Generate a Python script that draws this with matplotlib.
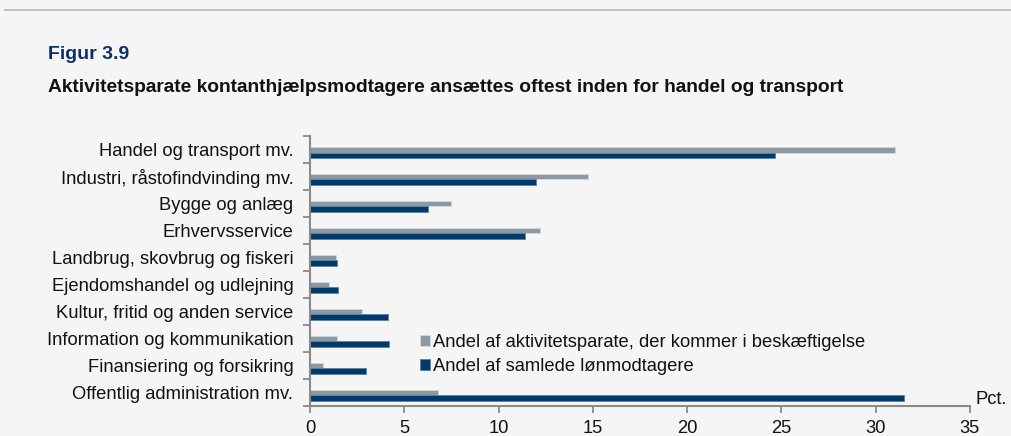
import matplotlib.pyplot as plt
import numpy as np

# data (pct.)
categories = [
    'Handel og transport mv.',
    'Industri, råstofindvinding mv.',
    'Bygge og anlæg',
    'Erhvervsservice',
    'Landbrug, skovbrug og fiskeri',
    'Ejendomshandel og udlejning',
    'Kultur, fritid og anden service',
    'Information og kommunikation',
    'Finansiering og forsikring',
    'Offentlig administration mv.',
]
aktivitetsparate = [31.0, 14.75, 7.5, 12.2, 1.4, 1.0, 2.75, 1.45, 0.7, 6.8]
loenmodtagere = [24.65, 12.0, 6.25, 11.4, 1.45, 1.5, 4.15, 4.2, 2.95, 31.5]

label_gray = 'Andel af aktivitetsparate, der kommer i beskæftigelse'
label_blue = 'Andel af samlede lønmodtagere'

plt.rcParams['font.family'] = ['Liberation Sans', 'DejaVu Sans']
plt.rcParams['font.size'] = 13

bg = '#f5f5f5'
gray = '#8d99a2'
blue = '#003a6b'
axis_col = '#8a8a8a'
txt = '#111111'
fs = 13.2

fig = plt.figure(figsize=(10.11, 4.36), dpi=100, facecolor=bg)
ax = fig.add_axes([0.3066, 0.0688, 0.6528, 0.6192])
ax.set_facecolor(bg)

n = len(categories)
y = np.arange(n)[::-1].astype(float)
h = 0.22
ax.barh(y, aktivitetsparate, height=h, color=gray, edgecolor='#d3d9de', linewidth=0.6,
        label=label_gray)
ax.barh(y - h, loenmodtagere, height=h, color=blue, edgecolor='#5d7fa0', linewidth=0.6,
        label=label_blue)

ax.set_xlim(0, 35)
ax.set_ylim(-0.5, n - 0.5)
ax.set_xticks(np.arange(0, 36, 5))
ax.set_yticks(y)
ax.set_yticklabels(categories, fontsize=fs, color=txt)
ax.set_yticks(np.arange(-0.5, n, 1.0), minor=True)
ax.tick_params(axis='y', which='major', length=0, pad=12)
ax.tick_params(axis='y', which='minor', length=5, width=1.3, color=axis_col, direction='out')
ax.tick_params(axis='x', length=5, width=1.3, color=axis_col, labelsize=fs,
               labelcolor=txt, pad=5)

for s in ['top', 'right']:
    ax.spines[s].set_visible(False)
for s in ['left', 'bottom']:
    ax.spines[s].set_color(axis_col)
    ax.spines[s].set_linewidth(1.5)

ax.text(35.3, -0.25, 'Pct.', fontsize=fs, color=txt, va='center', ha='left')

leg = ax.legend(loc='upper left', bbox_to_anchor=(0.406, 0.254), bbox_transform=fig.transFigure,
                frameon=False, fontsize=fs, handlelength=0.55, handleheight=0.55,
                handletextpad=0.2, labelspacing=0.35, borderpad=0)
for t in leg.get_texts():
    t.set_color(txt)

# header
fig.add_artist(plt.Line2D([0.005, 1.0], [0.977, 0.977], color='#b5b5b5', linewidth=1.2))
fig.text(0.047, 0.874, 'Figur 3.9', fontsize=14, fontweight='bold', color='#0b2f6b',
         va='center', ha='left')
fig.text(0.047, 0.800,
         'Aktivitetsparate kontanthjælpsmodtagere ansættes oftest inden for handel og transport',
         fontsize=13.8, fontweight='bold', color=txt, va='center', ha='left')

fig.savefig('out.png', dpi=100, facecolor=bg)
